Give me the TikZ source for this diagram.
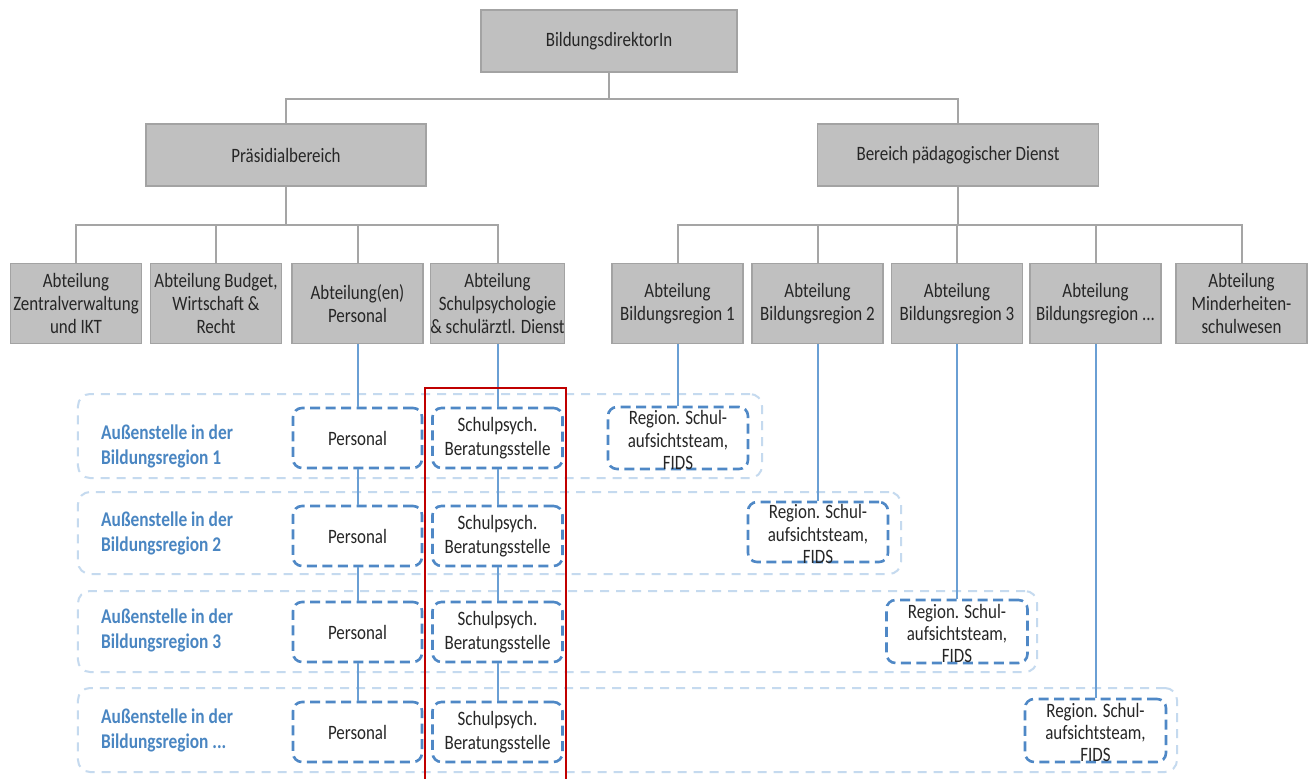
\documentclass[tikz,border=0pt]{standalone}
\usepackage{fontspec}
\setmainfont{Carlito}[FakeStretch=0.83]
\newcommand{\dgfont}{\fontsize{20.5}{23.5}\selectfont}
\newcommand{\dgfontr}{\fontsize{20.5}{22.5}\selectfont}
\newcommand{\dgfontl}{\fontsize{21}{25}\selectfont}
\definecolor{boxgray}{HTML}{C0C0C0}
\definecolor{boxedge}{HTML}{A3A3A3}
\definecolor{linegray}{HTML}{A5A5A5}
\definecolor{lineblue}{HTML}{6A9FD4}
\definecolor{dashblue}{HTML}{4F88C6}
\definecolor{bandblue}{HTML}{C5DAEF}
\definecolor{labelblue}{HTML}{4A86C2}
\definecolor{txt}{HTML}{262626}
\definecolor{redline}{HTML}{C00000}
\begin{document}
\begin{tikzpicture}[x=1bp,y=-1bp,
  graybox/.style={draw=boxedge, line width=1.5bp, fill=boxgray, minimum width=131bp, minimum height=80bp, inner sep=0pt, align=center, text=txt, font=\dgfont},
  gline/.style={draw=linegray, line width=2bp},
  bline/.style={draw=lineblue, line width=2bp},
  dashbox/.style={draw=dashblue, line width=2.6bp, dash pattern=on 10bp off 5.5bp, rounded corners=9bp, fill=white, inner sep=0pt, align=center, text=txt, font=\dgfont},
  band/.style={draw=bandblue, line width=2bp, dash pattern=on 9bp off 7bp, rounded corners=12bp, inner sep=0pt},
  bandlabel/.style={anchor=west, align=left, text=labelblue, font=\dgfontl\bfseries, inner sep=0pt},
  regtext/.style={align=center, text=txt, font=\dgfontr, inner sep=0pt}]
\fill[white] (0,0) rectangle (1313,778);
\useasboundingbox (0,0) rectangle (1313,778);

% top levels
\node[graybox, minimum width=256bp, minimum height=62bp] (top) at (609,41) {BildungsdirektorIn};
\node[graybox, minimum width=280bp, minimum height=62bp] (pras) at (286,155) {Präsidialbereich};
\node[graybox, minimum width=281bp, minimum height=62bp] (paed) at (958,155) {Bereich pädagogischer Dienst};

% departments
\node[graybox] (a1) at (76,303.5) {Abteilung\\Zentralverwaltung\\und IKT};
\node[graybox] (a2) at (216,303.5) {Abteilung Budget,\\Wirtschaft \&\\Recht};
\node[graybox] (a3) at (357.5,303.5) {Abteilung(en)\\Personal};
\node[graybox] (a4) at (497.5,303.5) {Abteilung\\Schulpsychologie\\\& schulärztl. Dienst};
\node[graybox] (b1) at (677.5,303.5) {Abteilung\\Bildungsregion 1};
\node[graybox] (b2) at (817.5,303.5) {Abteilung\\Bildungsregion 2};
\node[graybox] (b3) at (957,303.5) {Abteilung\\Bildungsregion 3};
\node[graybox] (b4) at (1095.5,303.5) {Abteilung\\Bildungsregion ...};
\node[graybox] (b5) at (1241.5,303.5) {Abteilung\\Minderheiten-\\schulwesen};

% gray connectors
\draw[gline] (top.south) -- ++(0,26) -| (pras.north);
\draw[gline] (top.south) -- ++(0,26) -| (paed.north);
\foreach \n in {a1,a2,a3,a4}{\draw[gline] (pras.south) -- ++(0,38) -| (\n.north);}
\foreach \n in {b1,b2,b3,b4,b5}{\draw[gline] (paed.south) -- ++(0,38) -| (\n.north);}

% bands
\node[band, minimum width=684bp, minimum height=84bp] (band1) at (420,436) {};
\node[band, minimum width=823bp, minimum height=82bp] (band2) at (489.5,533) {};
\node[band, minimum width=959bp, minimum height=81bp] (band3) at (557.5,631.5) {};
\node[band, minimum width=1099bp, minimum height=84bp] (band4) at (627.5,730) {};

\node[bandlabel] (l1) at (101,446) {Außenstelle in der\\Bildungsregion 1};
\node[bandlabel] (l2) at (101,533) {Außenstelle in der\\Bildungsregion 2};
\node[bandlabel] (l3) at (101,630) {Außenstelle in der\\Bildungsregion 3};
\node[bandlabel] (l4) at (101,730) {Außenstelle in der\\Bildungsregion ...};

% Personal column
\node[dashbox, minimum width=129bp, minimum height=60bp] (p1) at (357.5,438) {Personal};
\node[dashbox, minimum width=129bp, minimum height=60bp] (p2) at (357.5,536) {Personal};
\node[dashbox, minimum width=129bp, minimum height=60bp] (p3) at (357.5,632) {Personal};
\node[dashbox, minimum width=129bp, minimum height=60bp] (p4) at (357.5,732) {Personal};

% Schulpsych column
\node[dashbox, minimum width=130bp, minimum height=60bp] (s1) at (497.5,438) {Schulpsych.\\Beratungsstelle};
\node[dashbox, minimum width=130bp, minimum height=60bp] (s2) at (497.5,536) {Schulpsych.\\Beratungsstelle};
\node[dashbox, minimum width=130bp, minimum height=60bp] (s3) at (497.5,632) {Schulpsych.\\Beratungsstelle};
\node[dashbox, minimum width=130bp, minimum height=60bp] (s4) at (497.5,732) {Schulpsych.\\Beratungsstelle};

% Region boxes
\node[dashbox, minimum width=140bp, minimum height=62bp] (r1) at (678,438) {};
\node[dashbox, minimum width=140bp, minimum height=60bp] (r2) at (818,532) {};
\node[dashbox, minimum width=141bp, minimum height=63bp] (r3) at (957,631.5) {};
\node[dashbox, minimum width=141bp, minimum height=63bp] (r4) at (1095.5,730.5) {};
\node[regtext] (t1) at ([yshift=-2bp]r1.center) {Region. Schul-\\aufsichtsteam,\\FIDS};
\node[regtext] (t2) at ([yshift=-2bp]r2.center) {Region. Schul-\\aufsichtsteam,\\FIDS};
\node[regtext] (t3) at ([yshift=-2bp]r3.center) {Region. Schul-\\aufsichtsteam,\\FIDS};
\node[regtext] (t4) at ([yshift=-2bp]r4.center) {Region. Schul-\\aufsichtsteam,\\FIDS};

% blue connectors
\draw[bline] (a3.south) -- (p1.north);
\draw[bline] (p1.south) -- (p2.north);
\draw[bline] (p2.south) -- (p3.north);
\draw[bline] (p3.south) -- (p4.north);
\draw[bline] (a4.south) -- (s1.north);
\draw[bline] (s1.south) -- (s2.north);
\draw[bline] (s2.south) -- (s3.north);
\draw[bline] (s3.south) -- (s4.north);
\draw[bline] (b1.south) -- (b1.south |- r1.north);
\draw[bline] (b2.south) -- (b2.south |- r2.north);
\draw[bline] (b3.south) -- (b3.south |- r3.north);
\draw[bline] (b4.south) -- (b4.south |- r4.north);

% highlight
\draw[draw=redline, line width=2.5bp] (425,795) -- (425,388) -- (566,388) -- (566,795);
\end{tikzpicture}
\end{document}
